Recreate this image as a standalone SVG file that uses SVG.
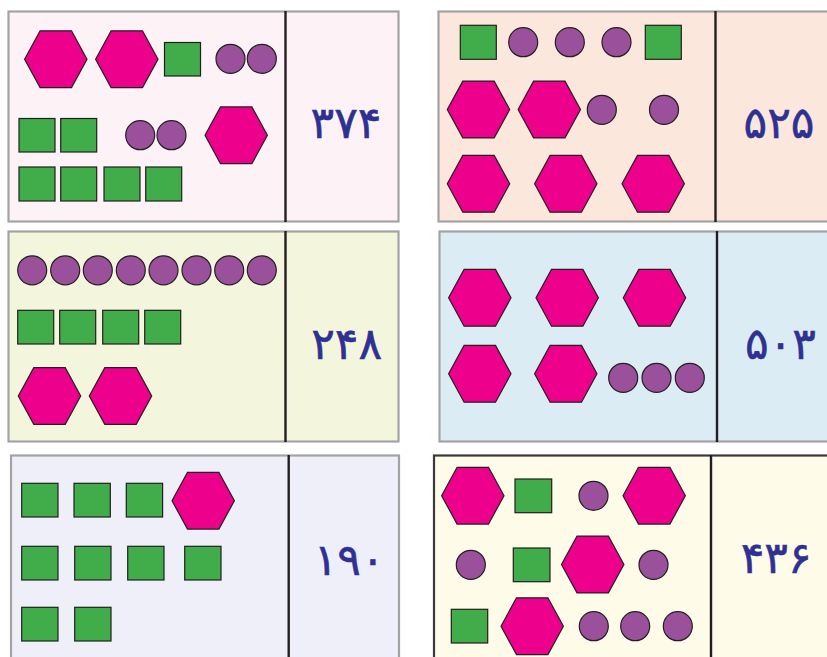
<svg xmlns="http://www.w3.org/2000/svg" xmlns:xlink="http://www.w3.org/1999/xlink" width="827" height="657" viewBox="0 0 827 657">
<style>
.card{stroke:#a3a3a3;stroke-width:2.2}
.div{stroke:#231f20;stroke-width:2.4}
.h{fill:#ec008c;stroke:#231f20;stroke-width:1.2}
.s{fill:#40ad4a;stroke:#231f20;stroke-width:1.2}
.c{fill:#9b509c;stroke:#231f20;stroke-width:1.2}
.n{font-family:"DejaVu Sans",sans-serif;font-size:44px;fill:#2e3192;text-anchor:middle;letter-spacing:5px;stroke:#2e3192;stroke-width:0.6}
</style>
<defs>
<polygon id="hex" class="h" points="-31.2,0 -15.7,-28.4 15.7,-28.4 31.2,0 15.7,28.4 -15.7,28.4"/>
</defs>
<rect width="827" height="657" fill="#ffffff"/>

<g id="card-374">
<rect class="card" x="8.5" y="11.5" width="390" height="210" fill="#fdf2f5"/>
<line class="div" x1="285.5" y1="11" x2="285.5" y2="222"/>
<use href="#hex" x="55.8" y="59.2"/><use href="#hex" x="126.8" y="59.2"/>
<rect class="s" x="164.5" y="42.5" width="36" height="33.5"/>
<circle class="c" cx="230.5" cy="58.8" r="14.5"/><circle class="c" cx="261.8" cy="58.8" r="14.5"/>
<rect class="s" x="19" y="118.5" width="36" height="33.5"/><rect class="s" x="60.7" y="118.5" width="36" height="33.5"/>
<circle class="c" cx="140.2" cy="135.2" r="14.5"/><circle class="c" cx="171.5" cy="135.2" r="14.5"/>
<use href="#hex" x="236.2" y="135.3"/>
<rect class="s" x="19" y="167" width="36" height="34"/><rect class="s" x="60.7" y="167" width="36" height="34"/>
<rect class="s" x="104" y="167" width="36" height="34"/><rect class="s" x="145.7" y="167" width="36" height="34"/>
<text class="n" x="346" y="137.5">۳۷۴</text>
</g>

<g id="card-525">
<rect class="card" x="438.5" y="11.5" width="400" height="210" fill="#fbe7db"/>
<line class="div" x1="715.5" y1="11" x2="715.5" y2="222"/>
<rect class="s" x="460.3" y="25.3" width="36" height="34"/>
<circle class="c" cx="523.2" cy="42.2" r="14.5"/><circle class="c" cx="569.8" cy="42.2" r="14.5"/><circle class="c" cx="616.5" cy="42.2" r="14.5"/>
<rect class="s" x="645.3" y="25.3" width="36" height="34"/>
<use href="#hex" x="478.5" y="109.5"/><use href="#hex" x="549.3" y="109.5"/>
<circle class="c" cx="601.8" cy="109.8" r="14.5"/><circle class="c" cx="664" cy="109.8" r="14.5"/>
<use href="#hex" x="478.5" y="183.8"/><use href="#hex" x="565.8" y="183.8"/><use href="#hex" x="653.2" y="183.8"/>
<text class="n" x="779" y="137.5">۵۲۵</text>
</g>

<g id="card-248">
<rect class="card" x="8.5" y="231.5" width="390" height="210" fill="#f3f6dc"/>
<line class="div" x1="285.5" y1="231" x2="285.5" y2="442"/>
<circle class="c" cx="32.2" cy="270.3" r="14.5"/><circle class="c" cx="65.2" cy="270.3" r="14.5"/>
<circle class="c" cx="97.8" cy="270.3" r="14.5"/><circle class="c" cx="130.8" cy="270.3" r="14.5"/>
<circle class="c" cx="163.5" cy="270.3" r="14.5"/><circle class="c" cx="196.5" cy="270.3" r="14.5"/>
<circle class="c" cx="229.2" cy="270.3" r="14.5"/><circle class="c" cx="261.8" cy="270.3" r="14.5"/>
<rect class="s" x="17.7" y="310.3" width="36" height="33.7"/><rect class="s" x="59.7" y="310.3" width="36" height="33.7"/>
<rect class="s" x="102.7" y="310.3" width="36" height="33.7"/><rect class="s" x="144.7" y="310.3" width="36" height="33.7"/>
<use href="#hex" x="49.5" y="396"/><use href="#hex" x="120.5" y="396"/>
<text class="n" x="346.7" y="358.5">۲۴۸</text>
</g>

<g id="card-503">
<rect class="card" x="439.5" y="231.5" width="400" height="210" fill="#dcecf5"/>
<line class="div" x1="717" y1="231" x2="717" y2="442"/>
<use href="#hex" x="479.8" y="297.8"/><use href="#hex" x="567.2" y="297.8"/><use href="#hex" x="654.5" y="297.8"/>
<use href="#hex" x="479.8" y="373.8"/><use href="#hex" x="565.8" y="373.8"/>
<circle class="c" cx="623.2" cy="377.8" r="14.5"/><circle class="c" cx="656.5" cy="377.8" r="14.5"/><circle class="c" cx="689.8" cy="377.8" r="14.5"/>
<text class="n" x="780.5" y="359">۵۰۳</text>
</g>

<g id="card-190">
<rect class="card" x="11" y="455.5" width="388" height="220" fill="#eeeff8"/>
<line class="div" x1="288.7" y1="455" x2="288.7" y2="660"/>
<rect class="s" x="21.7" y="483.3" width="36.3" height="33.7"/><rect class="s" x="74" y="483.3" width="36.3" height="33.7"/>
<rect class="s" x="126.3" y="483.3" width="36.3" height="33.7"/>
<use href="#hex" x="203.2" y="500.7"/>
<rect class="s" x="21.7" y="546.3" width="36.3" height="33.7"/><rect class="s" x="74.7" y="546.3" width="36.3" height="33.7"/>
<rect class="s" x="127.7" y="546.3" width="36.3" height="33.7"/><rect class="s" x="184.7" y="546.3" width="36.3" height="33.7"/>
<rect class="s" x="21.7" y="607.3" width="36.3" height="33.7"/><rect class="s" x="74.7" y="607.3" width="36.3" height="33.7"/>
<text class="n" x="349.2" y="575">۱۹۰</text>
</g>

<g id="card-436">
<rect x="434" y="455.5" width="405" height="220" fill="#fefbe8" stroke="#3a3a3a" stroke-width="2.2"/>
<line class="div" x1="711" y1="455" x2="711" y2="660"/>
<use href="#hex" x="472.8" y="495.7"/>
<rect class="s" x="515" y="479" width="36.7" height="33.7"/>
<circle class="c" cx="593.5" cy="495.8" r="14.5"/>
<use href="#hex" x="654.2" y="495.7"/>
<circle class="c" cx="470.8" cy="564.8" r="14.5"/>
<rect class="s" x="513.3" y="548" width="36.7" height="33.7"/>
<use href="#hex" x="592.7" y="564.5"/>
<circle class="c" cx="653.5" cy="564.8" r="14.5"/>
<rect class="s" x="451.3" y="609.3" width="36.4" height="33.7"/>
<use href="#hex" x="532.2" y="626.2"/>
<circle class="c" cx="593.8" cy="626.2" r="14.5"/><circle class="c" cx="635.2" cy="626.2" r="14.5"/><circle class="c" cx="677.8" cy="626.2" r="14.5"/>
<text class="n" x="776.2" y="573">۴۳۶</text>
</g>
</svg>
